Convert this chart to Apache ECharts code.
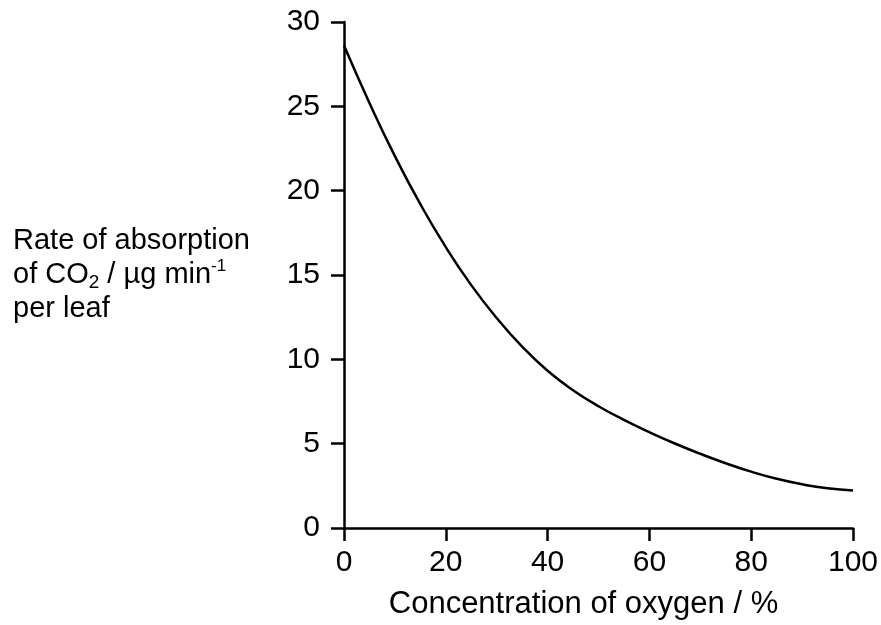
<!DOCTYPE html>
<html>
<head>
<meta charset="utf-8">
<title>CO2 absorption vs oxygen</title>
<script src="https://cdn.jsdelivr.net/npm/echarts@6/dist/echarts.min.js"></script>
<style>
  html, body { margin: 0; padding: 0; background: #fff; }
  #chart { width: 881px; height: 625px; }
</style>
</head>
<body>
<div id="chart"></div>
<script>
// oxygen concentration / %
const oxygen = [0, 5, 10, 15, 20, 25, 30, 35, 40, 45, 50, 55, 60, 65, 70, 75, 80, 85, 90, 95, 100];
// rate of CO2 absorption / ug min-1 per leaf
const rate = [28.6, 25.2, 22.05, 19.2, 16.65, 14.4, 12.45, 10.75, 9.32, 8.17, 7.22, 6.41, 5.68, 5.01, 4.4, 3.84, 3.34, 2.92, 2.59, 2.35, 2.22];
const xTicks = [0, 20, 40, 60, 80, 100];
const yTicks = [0, 5, 10, 15, 20, 25, 30];

const chart = echarts.init(document.getElementById("chart"));
const font = "'Liberation Sans', Arial, sans-serif";
const axisStyle = { color: "#000", width: 2.5 };

chart.setOption({
  animation: false,
  textStyle: { fontFamily: font, color: "#000" },
  grid: { left: 344, right: 25, top: 22, bottom: 95 },
  xAxis: {
    type: "value",
    min: xTicks[0],
    max: xTicks[xTicks.length - 1],
    interval: xTicks[1] - xTicks[0],
    name: "Concentration of oxygen / %",
    nameLocation: "middle",
    nameGap: 61,
    nameTextStyle: { fontSize: 31, color: "#000", padding: [0, 30, 0, 0] },
    axisLine: { lineStyle: axisStyle },
    axisTick: { length: 13, lineStyle: axisStyle },
    axisLabel: { fontSize: 30, color: "#000", margin: 20 },
    splitLine: { show: false },
  },
  yAxis: {
    type: "value",
    min: yTicks[0],
    max: yTicks[yTicks.length - 1],
    interval: yTicks[1] - yTicks[0],
    name: "Rate of absorption\nof CO{sub|2} / µg min{sup|-1}\nper leaf",
    nameLocation: "middle",
    nameRotate: 0,
    nameGap: 331,
    nameTextStyle: {
      fontSize: 29,
      color: "#000",
      align: "left",
      verticalAlign: "middle",
      lineHeight: 34,
      rich: {
        sub: { fontSize: 19, lineHeight: 19, verticalAlign: "bottom", color: "#000" },
        sup: { fontSize: 17, lineHeight: 17, verticalAlign: "top", color: "#000" },
      },
    },
    axisLine: { show: true, lineStyle: axisStyle },
    axisTick: { show: true, length: 13, lineStyle: axisStyle },
    axisLabel: { fontSize: 30, color: "#000", margin: 24 },
    splitLine: { show: false },
  },
  series: [
    {
      type: "line",
      data: oxygen.map((x, i) => [x, rate[i]]),
      smooth: 0.5,
      showSymbol: false,
      lineStyle: { color: "#000", width: 2.5 },
    },
  ],
});
</script>
</body>
</html>
